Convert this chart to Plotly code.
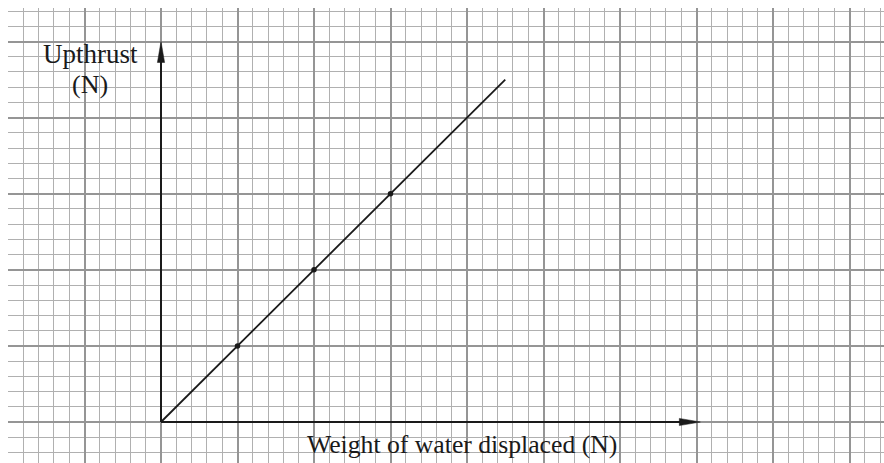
import plotly.graph_objects as go

# ---- data ----
line_x = [0, 1, 2, 3, 4.5]
line_y = [0, 1, 2, 3, 4.5]
point_x = [1, 2, 3]
point_y = [1, 2, 3]
x_label = "Weight of water displaced (N)"
y_label_top = "Upthrust"
y_label_bottom = "(N)"
x_axis_end = 7.05
y_axis_end = 5.0

# ---- layout constants ----
W, H = 884, 463
ML, MR, MT, MB = 8, 0, 8, 0
PX_X = 76.5   # pixels per major x unit
PX_Y = 76.1   # pixels per major y unit
ORIGIN_PX_X = 161
ORIGIN_PX_Y = 422

x0 = -(ORIGIN_PX_X - ML) / PX_X
x1 = x0 + (W - ML - MR) / PX_X
y0 = -(H - MB - ORIGIN_PX_Y) / PX_Y
y1 = (ORIGIN_PX_Y - MT) / PX_Y

MAJOR = "#959595"
MINOR = "#b0b0b0"
INK = "#1a1a1a"
FONT = "Liberation Serif"

fig = go.Figure()

# axes lines
fig.add_trace(go.Scatter(x=[0, x_axis_end - 0.1], y=[0, 0], mode="lines",
                         line=dict(color=INK, width=2), hoverinfo="skip"))
fig.add_trace(go.Scatter(x=[0, 0], y=[0, y_axis_end - 0.1], mode="lines",
                         line=dict(color=INK, width=2), hoverinfo="skip"))

# data line and points
fig.add_trace(go.Scatter(x=line_x, y=line_y, mode="lines",
                         line=dict(color=INK, width=1.8), hoverinfo="skip"))
fig.add_trace(go.Scatter(x=point_x, y=point_y, mode="markers",
                         marker=dict(color=INK, size=5.5), hoverinfo="skip"))

# arrowheads as slender triangles
ah_len_x = 21 / PX_X
ah_half_y = 3.6 / PX_Y
fig.add_shape(type="path",
              path=f"M {x_axis_end} 0 L {x_axis_end - ah_len_x} {ah_half_y} "
                   f"L {x_axis_end - ah_len_x} {-ah_half_y} Z",
              xref="x", yref="y", fillcolor=INK, line=dict(color=INK, width=0.5))
ah_len_y = 21 / PX_Y
ah_half_x = 3.6 / PX_X
fig.add_shape(type="path",
              path=f"M 0 {y_axis_end} L {ah_half_x} {y_axis_end - ah_len_y} "
                   f"L {-ah_half_x} {y_axis_end - ah_len_y} Z",
              xref="x", yref="y", fillcolor=INK, line=dict(color=INK, width=0.5))

# labels
fig.add_annotation(x=(90.8 - ORIGIN_PX_X) / PX_X, y=(ORIGIN_PX_Y - 54.3) / PX_Y,
                   text=y_label_top, showarrow=False, xanchor="center", yanchor="middle",
                   font=dict(family=FONT, size=27, color=INK))
fig.add_annotation(x=(90 - ORIGIN_PX_X) / PX_X, y=(ORIGIN_PX_Y - 84.5) / PX_Y,
                   text=y_label_bottom, showarrow=False, xanchor="center", yanchor="middle",
                   font=dict(family=FONT, size=26, color=INK))
fig.add_annotation(x=(305 - ORIGIN_PX_X) / PX_X, y=(ORIGIN_PX_Y - 444.5) / PX_Y,
                   text=x_label, showarrow=False, xanchor="left", yanchor="middle",
                   font=dict(family=FONT, size=25.7, color=INK))

axis_common = dict(
    showticklabels=False, ticks="", zeroline=False, showline=False,
    showgrid=True, gridcolor=MAJOR, gridwidth=2.2, dtick=1, tick0=0,
    minor=dict(dtick=0.2, tick0=0, showgrid=True, gridcolor=MINOR, gridwidth=1.3, ticks=""),
    fixedrange=True,
)

fig.update_layout(
    width=W, height=H,
    margin=dict(l=ML, r=MR, t=MT, b=MB),
    paper_bgcolor="white", plot_bgcolor="white",
    showlegend=False,
    xaxis=dict(range=[x0, x1], **axis_common),
    yaxis=dict(range=[y0, y1], **axis_common),
)

fig.write_html("out.html", config={"displayModeBar": False},
               post_script="document.body.style.margin='0';document.body.style.overflow='hidden';")
